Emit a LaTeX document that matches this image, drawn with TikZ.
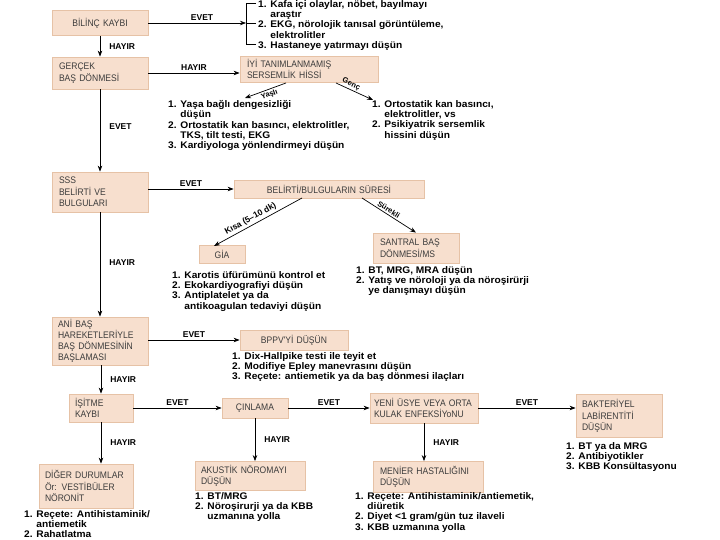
\documentclass[tikz,border=0pt]{standalone}
\usepackage{fontspec}
\setmainfont{Liberation Sans}
\newfontfamily\boxfont[FakeStretch=0.9]{Liberation Sans}
\newfontfamily\lstfont[FakeStretch=1.06]{Liberation Sans}
\usetikzlibrary{arrows.meta}
\definecolor{boxfill}{HTML}{F7DFCE}
\definecolor{boxline}{HTML}{E6C2A6}
\definecolor{boxtext}{HTML}{3C3C3C}
\newcommand{\ind}{\hphantom{1. }}
\begin{document}
\begin{tikzpicture}[x=1pt,y=-1pt,
  box/.style={draw=boxline, fill=boxfill, line width=0.8pt, text=boxtext,
    font=\boxfont\fontsize{9.5}{11.5}\selectfont, inner ysep=2pt},
  lst/.style={anchor=north west, inner sep=0pt, align=left,
    font=\lstfont\fontsize{9.6}{10.4}\selectfont\bfseries},
  lbl/.style={font=\fontsize{8.5}{9}\selectfont\bfseries, inner sep=2pt},
  slbl/.style={font=\fontsize{7.5}{8}\selectfont\bfseries, inner sep=1.5pt},
  arr/.style={-{Stealth[length=6pt,width=4.5pt]}, line width=0.7pt},
  ln/.style={line width=0.7pt}]
\useasboundingbox (0,0) rectangle (720,540);
\fill[white] (0,0) rectangle (720,540);

% boxes
\node[box, minimum width=96pt, minimum height=25pt, text width=86pt, inner xsep=5pt, align=center] (bilinc) at (100,23) {BİLİNÇ KAYBI};
\node[box, minimum width=96pt, minimum height=32pt, text width=82pt, inner xsep=7pt, align=left] (gercek) at (100,73) {GERÇEK\\BAŞ DÖNMESİ};
\node[box, minimum width=138pt, minimum height=26pt, text width=124pt, inner xsep=7pt, align=left] (iyi) at (309,69) {İYİ TANIMLANMAMIŞ\\SERSEMLİK HİSSİ};
\node[box, minimum width=96pt, minimum height=40pt, text width=82pt, inner xsep=7pt, align=left] (sss) at (100,192) {SSS\\BELİRTİ VE\\BULGULARI};
\node[box, minimum width=190pt, minimum height=18pt, text width=180pt, inner xsep=5pt, align=center] (sure) at (329,189) {BELİRTİ/BULGULARIN SÜRESİ};
\node[box, minimum width=46pt, minimum height=18pt, text width=40pt, inner xsep=3pt, align=center] (gia) at (222,254) {GİA};
\node[box, minimum width=86pt, minimum height=30pt, text width=72pt, inner xsep=7pt, align=left] (santral) at (416,248) {SANTRAL BAŞ\\DÖNMESİ/MS};
\node[box, minimum width=96pt, minimum height=48pt, text width=84pt, inner xsep=6pt, align=left, font=\boxfont\fontsize{9.5}{11}\selectfont] (ani) at (100,341) {ANİ BAŞ\\HAREKETLERİYLE\\BAŞ DÖNMESİNİN\\BAŞLAMASI};
\node[box, minimum width=108pt, minimum height=20pt, text width=98pt, inner xsep=5pt, align=center] (bppv) at (294,340) {BPPV'Yİ DÜŞÜN};
\node[box, minimum width=64pt, minimum height=28pt, text width=52pt, inner xsep=6pt, align=left] (isitme) at (101,408) {İŞİTME\\KAYBI};
\node[box, minimum width=66pt, minimum height=20pt, text width=60pt, inner xsep=3pt, align=center] (cinlama) at (255,408) {ÇINLAMA};
\node[box, minimum width=108pt, minimum height=30pt, text width=100pt, inner xsep=4pt, align=left] (yeni) at (424,408) {YENİ ÜSYE VEYA ORTA\\KULAK ENFEKSİYoNU};
\node[box, minimum width=86pt, minimum height=43pt, text width=74pt, inner xsep=6pt, align=left] (bakt) at (619,416) {BAKTERİYEL\\LABİRENTİTİ\\DÜŞÜN};
\node[box, minimum width=94pt, minimum height=44pt, text width=82pt, inner xsep=6pt, align=left] (diger) at (86,486) {DİĞER DURUMLAR\\Ör: VESTİBÜLER\\NÖRONİT};
\node[box, minimum width=110pt, minimum height=29pt, text width=98pt, inner xsep=6pt, align=left] (akustik) at (250,476) {AKUSTİK NÖROMAYI\\DÜŞÜN};
\node[box, minimum width=110pt, minimum height=31pt, text width=96pt, inner xsep=7pt, align=left] (menier) at (428,477) {MENİER HASTALIĞINI\\DÜŞÜN};

% lists
\node[lst] (l1) at (258,0) {1. Kafa içi olaylar, nöbet, bayılmayı\\\ind araştır\\2. EKG, nörolojik tanısal görüntüleme,\\\ind elektrolitler\\3. Hastaneye yatırmayı düşün};
\node[lst] (l2) at (168,100) {1. Yaşa bağlı dengesizliği\\\ind düşün\\2. Ortostatik kan basıncı, elektrolitler,\\\ind TKS, tilt testi, EKG\\3. Kardiyologa yönlendirmeyi düşün};
\node[lst] (l3) at (372,100) {1. Ortostatik kan basıncı,\\\ind elektrolitler, vs\\2. Psikiyatrik sersemlik\\\ind hissini düşün};
\node[lst] (l4) at (172,271) {1. Karotis üfürümünü kontrol et\\2. Ekokardiyografiyi düşün\\3. Antiplatelet ya da\\\ind antikoagulan tedaviyi düşün};
\node[lst] (l5) at (356,266) {1. BT, MRG, MRA düşün\\2. Yatış ve nöroloji ya da nöroşirürji\\\ind ye danışmayı düşün};
\node[lst] (l6) at (232,352) {1. Dix-Hallpike testi ile teyit et\\2. Modifiye Epley manevrasını düşün\\3. Reçete: antiemetik ya da baş dönmesi ilaçları};
\node[lst] (l7) at (566,442) {1. BT ya da MRG\\2. Antibiyotikler\\3. KBB Konsültasyonu};
\node[lst] (l8) at (24,510) {1. Reçete: Antihistaminik/\\\ind antiemetik\\2. Rahatlatma};
\node[lst] (l9) at (195,492) {1. BT/MRG\\2. Nöroşirurji ya da KBB\\\ind uzmanına yolla};
\node[lst] (l10) at (355,492) {1. Reçete: Antihistaminik/antiemetik,\\\ind diüretik\\2. Diyet <1 gram/gün tuz ilaveli\\3. KBB uzmanına yolla};

% bracket
\coordinate (brT) at (256,3);
\coordinate (brM) at (246,23);
\coordinate (brB) at (256,44);
\draw[ln] (brT) -- (246,3) -- (246,44) -- (brB);
\draw[ln] (brM) -- ++(10,0);

% connectors
\draw[arr] (bilinc.east) -- node[lbl, above, pos=0.55] {EVET} (brM);
\draw[arr] (bilinc) -- node[lbl, right=7pt] {HAYIR} (gercek);
\draw[arr] (gercek.east) -- node[lbl, above] {HAYIR} (gercek.east -| iyi.west);
\draw[arr] (gercek) -- node[lbl, right=7pt, pos=0.45] {EVET} (sss);
\draw[arr] (sss.east |- sure.west) -- node[lbl, above] {EVET} (sure.west);
\draw[arr] (sss) -- node[lbl, right=7pt, pos=0.48] {HAYIR} (ani);
\draw[arr] (ani.east |- bppv.west) -- node[lbl, above] {EVET} (bppv.west);
\draw[arr] (ani.south -| isitme.north) -- node[lbl, right=7pt] {HAYIR} (isitme.north);
\draw[arr] (isitme.east) -- node[lbl, above] {EVET} (cinlama.west);
\draw[arr] (cinlama.east) -- node[lbl, above] {EVET} (yeni.west);
\draw[arr] (yeni.east) -- node[lbl, above] {EVET} (yeni.east -| bakt.west);
\draw[arr] (isitme.south) -- node[lbl, right=7pt] {HAYIR} (isitme.south |- diger.north);
\draw[arr] (cinlama.south) -- node[lbl, right=7pt] {HAYIR} (cinlama.south |- akustik.north);
\draw[arr] (yeni.south) -- node[lbl, right=7pt] {HAYIR} (yeni.south |- menier.north);

% diagonal arrows
\coordinate (ya1) at (286,83);
\coordinate (ya2) at (245,98);
\coordinate (ge1) at (336,83);
\coordinate (ge2) at (373,100);
\coordinate (ki1) at (302,198);
\coordinate (ki2) at (214,246);
\coordinate (su1) at (362,198);
\draw[arr] (ya1) -- node[slbl, below, sloped, pos=0.45] {Yaşlı} (ya2);
\draw[arr] (ge1) -- node[slbl, above, sloped, pos=0.35] {Genç} (ge2);
\draw[arr] (ki1) -- node[lbl, above, sloped, pos=0.55] {Kısa (5–10 dk)} (ki2);
\draw[arr] (su1) -- node[slbl, above, sloped, pos=0.45] {Sürekli} (santral.north);
\end{tikzpicture}
\end{document}
